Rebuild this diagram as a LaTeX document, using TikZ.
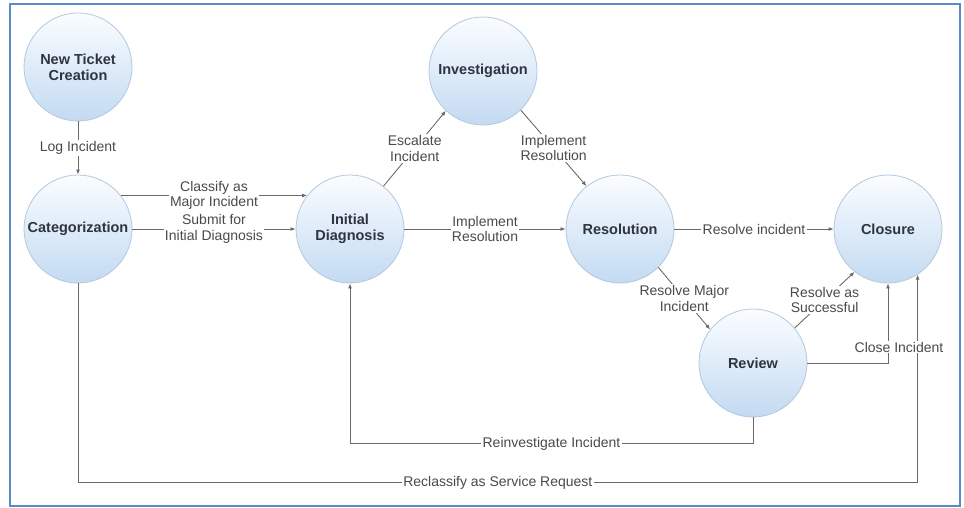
\documentclass[tikz,border=0pt]{standalone}
\usepackage{fontspec}
\setmainfont{Liberation Sans}
\usetikzlibrary{arrows.meta}
\definecolor{frameblue}{HTML}{5B8AC8}
\definecolor{circtop}{HTML}{FBFDFF}
\definecolor{circbot}{HTML}{C3DAF2}
\definecolor{circline}{HTML}{B2C8DE}
\definecolor{edgegray}{HTML}{6A6A6A}
\definecolor{labelgray}{HTML}{4A4A4A}
\definecolor{statetext}{HTML}{2E3440}
\tikzset{
  state/.style={circle, minimum size=108pt, inner sep=0pt, draw=circline, line width=0.8pt,
    top color=circtop, bottom color=circbot, align=center, text=statetext,
    font=\fontsize{14.5}{16}\selectfont\bfseries},
  conn/.style={draw=edgegray, line width=0.9pt, -{Latex[length=5pt,width=4pt]}},
  lbl/.style={fill=white, inner sep=1.2pt, align=center, text=labelgray,
    font=\fontsize{14}{15.5}\selectfont}
}
\begin{document}
\begin{tikzpicture}[x=1pt,y=-1pt]
\useasboundingbox (0,0) rectangle (964,508);
\draw[frameblue, line width=1.6pt] (10,4) rectangle (960,506);

\node[state] (nt)  at (78,67)   {New Ticket\\Creation};
\node[state] (cat) at (78,229)  {Categorization};
\node[state] (diag) at (350,229) {Initial\\Diagnosis};
\node[state] (inv) at (483,71)  {Investigation};
\node[state] (res) at (620,229) {Resolution};
\node[state] (clo) at (888,229) {Closure};
\node[state] (rev) at (753,363) {Review};

\draw[conn] (nt) -- node[lbl]{Log Incident} (cat);
\draw[conn] (cat.38) -- node[lbl]{Classify as\\Major Incident} (diag.142);
\draw[conn] (cat.east) -- node[lbl]{Submit for\\Initial Diagnosis} (diag.west);
\draw[conn] (diag.52) -- node[lbl]{Escalate\\Incident} (inv.227);
\draw[conn] (inv.314) -- node[lbl]{Implement\\Resolution} (res.128);
\draw[conn] (diag.east) -- node[lbl]{Implement\\Resolution} (res.west);
\draw[conn] (res.east) -- node[lbl]{Resolve incident} (clo.west);
\draw[conn] (res.-45) -- node[lbl]{Resolve Major\\Incident} (rev.142);
\draw[conn] (rev.40) -- node[lbl]{Resolve as\\Successful} (clo.232);
\draw[conn] (rev.south) -- ++(0,26) -| node[lbl,pos=0.25]{Reinvestigate Incident} (diag.south);
\draw[conn] (cat.south) -- ++(0,199) -| node[lbl,pos=0.25]{Reclassify as Service Request} (clo.-57);
\draw[conn] (rev.east) -| node[lbl,pos=0.6,xshift=11pt]{Close Incident} (clo.south);
\end{tikzpicture}
\end{document}
